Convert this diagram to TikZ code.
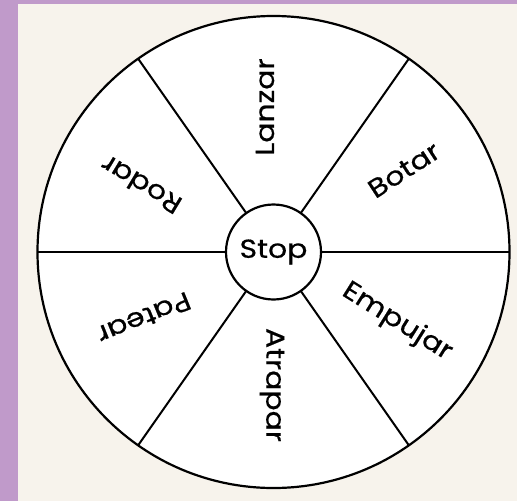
\documentclass[tikz,border=0pt]{standalone}
\usepackage{fontspec}
\setmainfont{Poppins}[FakeStretch=1.15, FakeBold=0.6]
\usetikzlibrary{calc}
\definecolor{purp}{HTML}{C09ACA}
\definecolor{cream}{HTML}{F7F3EC}
\begin{document}
\begin{tikzpicture}[x=1pt,y=-1pt,
  lab/.style={font=\fontsize{26}{26}\selectfont, inner sep=0pt},
  ring/.style={draw=black, line width=2.2pt, fill=white},
  spoke/.style={draw=black, line width=2pt}]
\useasboundingbox (0,0) rectangle (517,501);
\fill[purp] (0,0) rectangle (517,501);
\fill[cream] (17.5,3.5) rectangle (517,501);
\coordinate (c) at (273.5,252);
\node[ring, circle, minimum size=472pt, inner sep=0pt] (outer) at (c) {};
\foreach \a in {0,55,125,180,235,305} {
  \draw[spoke] ($(c)+(\a:47pt)$) coordinate (i\a) -- ($(c)+(\a:236pt)$) coordinate (o\a);
}
\node[ring, circle, minimum size=95pt, inner sep=0pt, font=\fontsize{26}{26}\selectfont] (stop) at (c) {Stop};
\node[lab, rotate=90] (lanzar) at (265,107) {Lanzar};
\node[lab, rotate=33] (botar) at (404,170) {Botar};
\node[lab, rotate=-32] (empujar) at (397,322) {Empujar};
\node[lab, rotate=-90] (atrapar) at (272,385) {Atrapar};
\node[lab, rotate=149] (rodar) at (141,185) {Rodar};
\node[lab, rotate=-158] (patear) at (144,318) {Patear};
\end{tikzpicture}
\end{document}
